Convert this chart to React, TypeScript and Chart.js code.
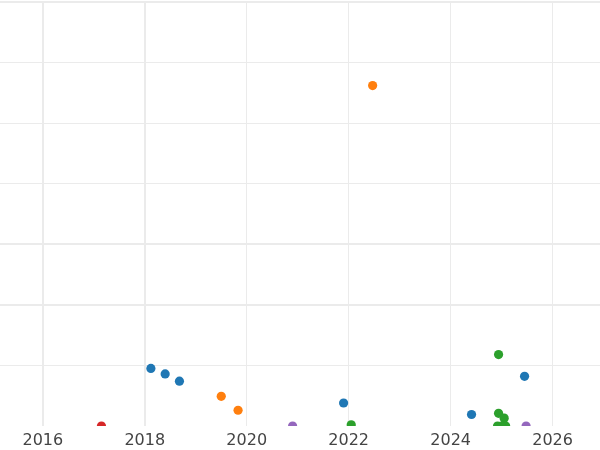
import React, { useEffect, useRef } from "react";
import { Chart, registerables } from "chart.js";

Chart.register(...registerables);

const blueX = [2018.12, 2018.40, 2018.68, 2021.90, 2024.41, 2025.45];
const blueY = [0.95, 0.86, 0.74, 0.38, 0.19, 0.82];
const orangeX = [2019.50, 2019.83, 2022.47];
const orangeY = [0.49, 0.26, 5.62];
const greenX = [2022.05, 2024.94, 2024.94, 2025.05, 2024.92, 2025.08, 2025.0];
const greenY = [0.02, 1.18, 0.21, 0.13, 0.0, 0.0, 0.0];
const redX = [2017.15];
const redY = [0.0];
const purpleX = [2020.9, 2025.48];
const purpleY = [0.0, 0.0];

const xTicks = [2016, 2018, 2020, 2022, 2024, 2026];
const yThickGrid = [7, 3, 2];

const pts = (xs: number[], ys: number[]) => xs.map((x, i) => ({ x, y: ys[i] }));

export default function App() {
  const ref = useRef<HTMLCanvasElement | null>(null);
  useEffect(() => {
    if (!ref.current) return;
    const mk = (label: string, xs: number[], ys: number[], color: string) => ({
      label,
      data: pts(xs, ys),
      backgroundColor: color,
      borderColor: color,
      pointRadius: 4.6,
      pointBorderWidth: 0,
      clip: 0,
    });
    const chart = new Chart(ref.current, {
      type: "scatter",
      data: {
        datasets: [
          mk("blue", blueX, blueY, "#1f77b4"),
          mk("orange", orangeX, orangeY, "#ff7f0e"),
          mk("green", greenX, greenY, "#2ca02c"),
          mk("red", redX, redY, "#d62728"),
          mk("purple", purpleX, purpleY, "#9467bd"),
        ],
      },
      options: {
        animation: false,
        responsive: true,
        maintainAspectRatio: false,
        layout: { autoPadding: false, padding: { top: 2, left: 0, right: 0, bottom: 0 } },
        plugins: { legend: { display: false }, tooltip: { enabled: false } },
        scales: {
          x: {
            type: "linear",
            min: 2015.16,
            max: 2026.93,
            border: { display: false },
            grid: {
              drawTicks: false,
              color: "#ebebeb",
              lineWidth: (ctx: any) => (ctx.tick && (ctx.tick.value === 2016 || ctx.tick.value === 2018) ? 2 : 1),
            },
            afterBuildTicks: (scale: any) => {
              scale.ticks = xTicks.map((v) => ({ value: v }));
            },
            afterFit: (scale: any) => {
              scale.height = 24;
            },
            ticks: {
              padding: 5,
              color: "#444444",
              font: { family: "DejaVu Sans", size: 16 },
              callback: (v: any) => String(v),
            },
          },
          y: {
            type: "linear",
            min: 0,
            max: 7,
            border: { display: false },
            grid: {
              drawTicks: false,
              color: (ctx: any) => (ctx.tick && ctx.tick.value === 0 ? "rgba(0,0,0,0)" : "#ebebeb"),
              lineWidth: (ctx: any) => (ctx.tick && yThickGrid.includes(ctx.tick.value) ? 2 : 1),
            },
            ticks: { display: false, stepSize: 1 },
          },
        },
      },
    });
    return () => chart.destroy();
  }, []);
  return (
    <div style={{ position: "absolute", left: 0, top: 0, width: 600, height: 450, background: "#ffffff" }}>
      <canvas ref={ref} />
    </div>
  );
}
